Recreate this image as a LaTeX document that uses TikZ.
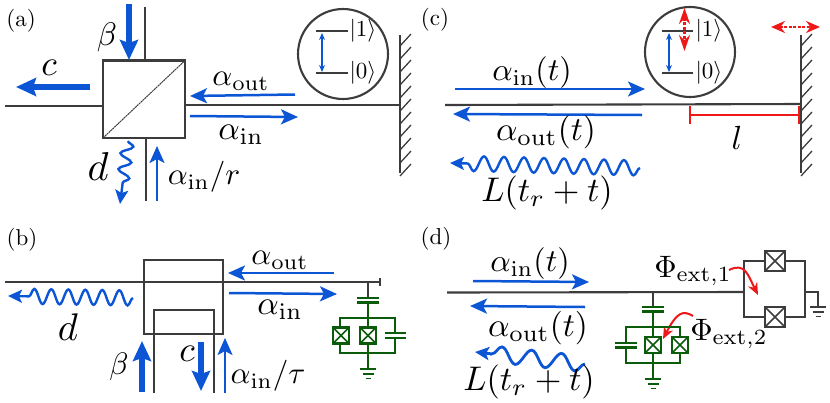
\documentclass[tikz,border=0pt]{standalone}
\usetikzlibrary{arrows.meta,decorations.pathmorphing}
\definecolor{wire}{RGB}{60,60,60}
\definecolor{beam}{RGB}{12,86,214}
\definecolor{circ}{RGB}{10,92,10}
\definecolor{redarr}{RGB}{238,24,24}
\tikzset{
	wirel/.style={wire,line width=2.1pt},
	thinb/.style={beam,line width=2.5pt,-{Stealth[length=17pt,width=15pt,inset=4pt]}},
	fatb/.style={beam,line width=6pt,-{Stealth[length=20pt,width=18pt,inset=3pt]}},
	wigb/.style={beam,line width=2.4pt,-{Stealth[length=14pt,width=13pt,inset=3pt]},decorate},
	lab/.style={inner sep=0pt,scale=3.1},
	biglab/.style={inner sep=0pt,scale=3.35},
	ketlab/.style={inner sep=0pt,scale=2.3},
	panel/.style={inner sep=0pt,scale=2.3},
	redl/.style={redarr,line width=1.9pt}
}
\newcommand{\junction}[4]{
	\draw[#4,line width=2.1pt,fill=white] (#1-#3,#2-#3) rectangle (#1+#3,#2+#3);
	\draw[#4,line width=1.5pt] (#1-#3,#2-#3) -- (#1+#3,#2+#3) (#1-#3,#2+#3) -- (#1+#3,#2-#3);
}
\newcommand{\earth}[3]{
	\draw[#3,line width=1.8pt] (#1-8,#2) -- (#1+8,#2) (#1-5.5,#2+5) -- (#1+5.5,#2+5) (#1-2.5,#2+9.5) -- (#1+2.5,#2+9.5);
}
\newcommand{\wallhatch}[1]{
	\draw[wirel,line width=2.4pt] (#1,35) -- (#1,173);
	\foreach \y in {46,59,...,176}
		\draw[wire,line width=1.3pt] (#1,\y) -- (#1+11,\y-12);
}
\begin{document}
\begin{tikzpicture}[x=1pt,y=-1pt]
	\useasboundingbox (0,0) rectangle (830,402);
	\node[panel] (labela) at (21,21) {(a)};
	\node[panel] (labelb) at (22,240) {(b)};
	\node[panel] (labelc) at (435,20) {(c)};
	\node[panel] (labeld) at (436,239) {(d)};

	\draw[wirel] (5,106) -- (103,106);
	\draw[wirel] (145,7) -- (145,60);
	\draw[wirel] (146,139) -- (146,201);
	\draw[wirel] (185,105) -- (400,105);
	\draw[wirel] (103,60.5) rectangle (185,138);
	\draw[wire,line width=1pt,dash pattern=on 2pt off 0.6pt] (103,138) -- (185,60.5);
	\wallhatch{400}
	\draw[wirel] (343,54) circle (45);
	\draw[wirel] (316,31) -- (348,31);
	\draw[wirel] (316,73) -- (348,73);
	\draw[beam,line width=1.2pt,{Stealth[length=7pt,width=6pt]}-{Stealth[length=7pt,width=6pt]}] (322,33) -- (322,72);
	\node[ketlab] (onea) at (363,31) {$|1\rangle$};
	\node[ketlab] (zeroa) at (363,73) {$|0\rangle$};
	\draw[fatb] (129,4) -- (129,60);
	\node[lab,scale=1.05] (betaa) at (107,37) {$\beta$};
	\draw[fatb] (90,87) -- (16,87);
	\node[lab,scale=1.15] (ca) at (49,68) {$c$};
	\draw[thinb] (295,94.5) -- (190,96);
	\node[lab] (outa) at (241,81) {$\alpha_{\rm out}$};
	\draw[thinb] (190,116) -- (298,117);
	\node[lab,scale=1.08] (ina) at (241,135) {$\alpha_{\rm in}$};
	\draw[wigb,decoration={snake,amplitude=6pt,segment length=16pt,post length=14pt}] (128,141) -- (120,204);
	\node[lab,scale=1.3] (da) at (98,167) {$d$};
	\draw[thinb] (157,201) -- (157,146);
	\node[lab] (ra) at (204,177) {$\alpha_{\rm in}/r$};

	\draw[wirel] (445,105) -- (801,104);
	\wallhatch{801}
	\draw[wirel] (690,52) circle (45);
	\draw[wirel] (662,31) -- (693,31);
	\draw[wirel] (662,73) -- (693,73);
	\draw[beam,line width=1.2pt,{Stealth[length=7pt,width=6pt]}-{Stealth[length=7pt,width=6pt]}] (669,33) -- (669,72);
	\node[ketlab] (onec) at (709,31) {$|1\rangle$};
	\node[ketlab] (zeroc) at (709,73) {$|0\rangle$};
	\draw[redl,line width=2.2pt,dash pattern=on 3pt off 1.5pt,{Stealth[length=16pt,width=11pt]}-{Stealth[length=16pt,width=11pt]}] (684.5,8) -- (684.5,51);
	\draw[redl,line width=2.2pt,dash pattern=on 3pt off 1.5pt,{Stealth[length=14pt,width=12pt]}-{Stealth[length=14pt,width=12pt]}] (771,27) -- (820,27);
	\draw[thinb] (455,89) -- (645,89);
	\node[biglab,scale=0.95] (inc) at (532,73) {$\alpha_{\rm in}(t)$};
	\draw[thinb] (642,115) -- (453,114);
	\node[biglab] (outc) at (546,132) {$\alpha_{\rm out}(t)$};
	\draw[wigb,decoration={snake,amplitude=7.5pt,segment length=20pt,post length=14pt}] (640,168) -- (450,163);
	\node[biglab,scale=1.02] (lc) at (547,193) {$L(t_r+t)$};
	\draw[redl] (690,106) -- (690,124);
	\draw[redl] (799,106) -- (799,124);
	\draw[redl] (690,115) -- (799,115);
	\node[biglab] (lenc) at (737,138) {$l$};

	\draw[wirel] (5,282) -- (380,282);
	\draw[wirel] (380,278) -- (380,286);
	\draw[wirel] (144,260) rectangle (223,334);
	\draw[wirel] (154,393) -- (154,310) -- (214,310) -- (214,393);
	\draw[wigb,decoration={snake,amplitude=7.5pt,segment length=17pt,post length=14pt}] (133,298) -- (8,296);
	\node[biglab,scale=1.15] (db) at (68,327) {$d$};
	\draw[thinb] (334,273) -- (228,273);
	\node[lab] (outb) at (280,260) {$\alpha_{\rm out}$};
	\draw[thinb] (229,293) -- (337,294);
	\node[lab,scale=1.08] (inb) at (280,310) {$\alpha_{\rm in}$};
	\draw[fatb] (142,392) -- (142,341);
	\node[lab] (betab) at (119,367) {$\beta$};
	\draw[fatb] (201,342) -- (201,391);
	\node[lab,scale=1.15] (cb) at (187,354) {$c$};
	\draw[thinb] (225,393) -- (225,338);
	\node[lab] (taub) at (268,376) {$\alpha_{\rm in}/\tau$};
	\draw[wirel] (368,282) -- (368,298);
	\draw[circ,line width=1.9pt] (368,302) -- (368,318) (340,335) -- (340,318) -- (395,318) -- (395,333) (395,338) -- (395,353) -- (340,353) -- (340,335) (368,318) -- (368,369);
	\draw[circ,line width=2.1pt] (357,298) -- (379,298) (357,302.5) -- (379,302.5) (385,333) -- (406,333) (385,338) -- (406,338);
	\junction{341}{335.5}{8}{circ}
	\junction{368}{335.5}{8}{circ}
	\earth{368}{369}{circ}

	\draw[wirel] (447,292.5) -- (744,292);
	\draw[wirel] (744,261) rectangle (805,317);
	\draw[wirel] (805,292) -- (818,292) -- (818,307);
	\junction{775}{261}{10}{wire}
	\junction{775}{317}{10}{wire}
	\earth{818}{307}{wire}
	\draw[thinb] (473,281) -- (589,282);
	\node[biglab,scale=0.95] (ind) at (530,264) {$\alpha_{\rm in}(t)$};
	\draw[thinb] (585,307) -- (470,306);
	\node[biglab] (outd) at (538,328) {$\alpha_{\rm out}(t)$};
	\draw[wigb,line width=2.8pt,decoration={snake,amplitude=8pt,segment length=30pt,post length=14pt}] (585,364) -- (475,352);
	\node[biglab,scale=1.02] (ld) at (529,382) {$L(t_r+t)$};
	\node[lab] (phia) at (693,271) {$\Phi_{\rm ext,1}$};
	\node[lab] (phib) at (729,334) {$\Phi_{\rm ext,2}$};
	\draw[redl,line width=2pt,-{Stealth[length=12pt,width=10pt]}] (729,270) .. controls (745,262) and (748,275) .. (758,295);
	\draw[redl,line width=2pt,-{Stealth[length=12pt,width=10pt]}] (693,316) .. controls (683,310) and (677,312) .. (663,339);
	\draw[wirel] (653,292) -- (653,307);
	\draw[circ,line width=1.9pt] (653,311) -- (653,327) (626,343) -- (626,327) -- (680,327) -- (680,363) -- (626,363) -- (626,347) (653,327) -- (653,379);
	\draw[circ,line width=2.1pt] (642,307) -- (664,307) (642,311.5) -- (664,311.5) (615,343) -- (637,343) (615,347.5) -- (637,347.5);
	\junction{653}{345}{8}{circ}
	\junction{680}{345}{8}{circ}
	\earth{653}{379}{circ}
\end{tikzpicture}
\end{document}
